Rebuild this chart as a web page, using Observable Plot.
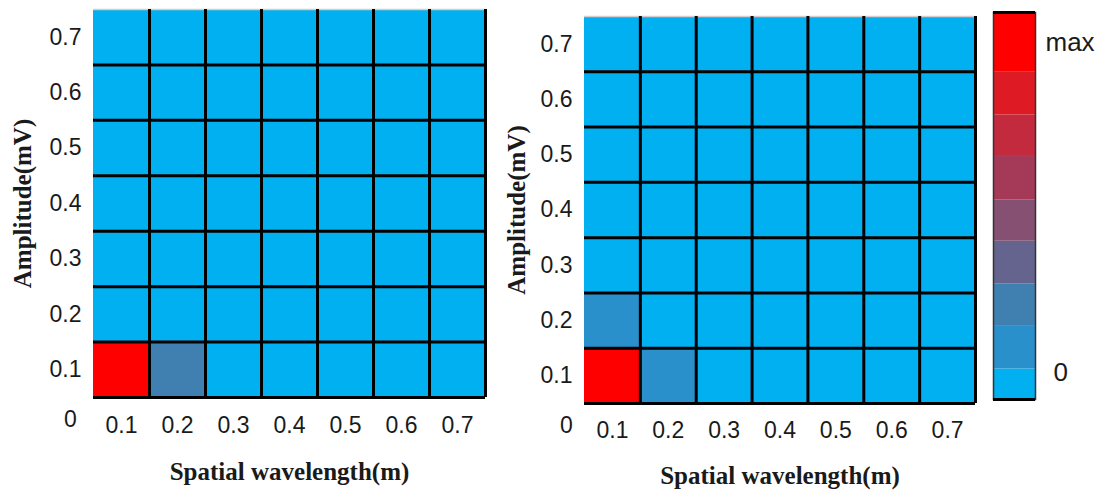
<!DOCTYPE html>
<html><head><meta charset="utf-8">
<script src="https://cdn.jsdelivr.net/npm/d3@7"></script>
<script src="https://cdn.jsdelivr.net/npm/@observablehq/plot@0.6"></script>
<style>
body{margin:0;background:#fff;}
#fig{position:relative;width:1115px;height:494px;overflow:hidden;background:#fff;}
#fig > div{position:absolute;top:0;}
#left{left:0;} #right{left:495px;} #bar{left:985px;}
</style></head><body>
<div id="fig"><div id="left"></div><div id="right"></div><div id="bar"></div></div>
<script>
// ---- data ----
const wavelengths = [0.1, 0.2, 0.3, 0.4, 0.5, 0.6, 0.7];   // x categories (m)
const amplitudes  = [0.1, 0.2, 0.3, 0.4, 0.5, 0.6, 0.7];   // y categories (mV)
// colour level per cell (0 = lowest, 8 = max); rows: amplitude 0.1 -> 0.7, columns: wavelength 0.1 -> 0.7
const leftLevels = [
  [8, 2, 0, 0, 0, 0, 0],
  [0, 0, 0, 0, 0, 0, 0],
  [0, 0, 0, 0, 0, 0, 0],
  [0, 0, 0, 0, 0, 0, 0],
  [0, 0, 0, 0, 0, 0, 0],
  [0, 0, 0, 0, 0, 0, 0],
  [0, 0, 0, 0, 0, 0, 0]
];
const rightLevels = [
  [8, 1, 0, 0, 0, 0, 0],
  [1, 0, 0, 0, 0, 0, 0],
  [0, 0, 0, 0, 0, 0, 0],
  [0, 0, 0, 0, 0, 0, 0],
  [0, 0, 0, 0, 0, 0, 0],
  [0, 0, 0, 0, 0, 0, 0],
  [0, 0, 0, 0, 0, 0, 0]
];
const levelColors = ["#00b0f0", "#2a90cc", "#4080b0", "#65648e", "#865072", "#a53a58", "#c42a3e", "#de1a24", "#ff0000"];
// colour-bar band boundaries, bottom -> top (fraction of bar height)
const legendStops = [0, 0.079, 0.191, 0.298, 0.409, 0.516, 0.628, 0.735, 0.847, 1];
const legendLabels = ["0", "max"];
const xTitle = "Spatial wavelength(m)";
const yTitle = "Amplitude(mV)";

// ---- drawing ----
const colorScale = {type: "ordinal", domain: levelColors.map((c, i) => i), range: levelColors};
const half = 0.05;
const tickFont = "'Liberation Sans', Arial, sans-serif";
const titleFont = "'Liberation Serif', 'Times New Roman', serif";
const fmt = d => String(+d.toFixed(1));

function heatmap(levels, o) {
  const cells = [];
  amplitudes.forEach((a, i) => wavelengths.forEach((w, j) => cells.push({w, a, level: levels[i][j]})));
  return Plot.plot({
    width: o.width, height: 494,
    marginLeft: o.ml, marginRight: o.mr, marginTop: o.mt, marginBottom: o.mb,
    x: {domain: [wavelengths[0] - half, wavelengths[6] + half], ticks: wavelengths, tickFormat: fmt, tickSize: 0, tickPadding: o.xpad, label: null},
    y: {domain: [amplitudes[0] - half, amplitudes[6] + half], ticks: amplitudes, tickFormat: fmt, tickSize: 0, tickPadding: 12, label: null},
    color: colorScale,
    style: {fontFamily: tickFont, fontSize: "23px", color: "#1a1a1a", background: "transparent"},
    marks: [
      Plot.rect(cells, {x1: d => d.w - half, x2: d => d.w + half, y1: d => d.a - half, y2: d => d.a + half, fill: "level"}),
      Plot.ruleY([amplitudes[6] + half], {stroke: "#d8cccc", strokeWidth: 1.5}),
      Plot.ruleX(wavelengths.map(w => w + half), {stroke: "black", strokeWidth: 3}),
      Plot.ruleY(amplitudes.map(a => a - half), {stroke: "black", strokeWidth: 3}),
      Plot.text(["0"], {frameAnchor: "bottom-left", textAnchor: "middle", lineAnchor: "middle", dx: o.zdx, dy: o.zdy, fontSize: 23, fontFamily: tickFont}),
      Plot.text([yTitle], {frameAnchor: "left", textAnchor: "middle", lineAnchor: "middle", rotate: -90, dx: o.ytdx, fontFamily: titleFont, fontWeight: "bold", fontSize: 25}),
      Plot.text([xTitle], {frameAnchor: "bottom", textAnchor: "middle", lineAnchor: "middle", dy: o.xtdy, fontFamily: titleFont, fontWeight: "bold", fontSize: 25})
    ]
  });
}

document.getElementById("left").append(heatmap(leftLevels, {
  width: 495, ml: 93, mr: 10, mt: 9, mb: 97, xpad: 19, zdx: -23, zdy: 22, ytdx: -71, xtdy: 74
}));
document.getElementById("right").append(heatmap(rightLevels, {
  width: 490, ml: 89, mr: 10, mt: 16, mb: 91, xpad: 18, zdx: -18, zdy: 22, ytdx: -68, xtdy: 72
}));

const bands = levelColors.map((c, i) => ({lo: legendStops[i], hi: legendStops[i + 1], level: i}));
document.getElementById("bar").append(Plot.plot({
  width: 130, height: 494,
  marginLeft: 8, marginRight: 80, marginTop: 12, marginBottom: 95,
  x: {domain: [0, 1], axis: null},
  y: {domain: [0, 1], axis: null},
  color: colorScale,
  style: {fontFamily: tickFont, background: "transparent", color: "#1a1a1a"},
  marks: [
    Plot.rect(bands, {x1: 0, x2: 1, y1: "lo", y2: "hi", fill: "level"}),
    Plot.frame({stroke: "#333", strokeWidth: 1.5}),
    Plot.ruleY([0, 1], {stroke: "black", strokeWidth: 3}),
    Plot.text([legendLabels[1]], {frameAnchor: "top-right", textAnchor: "start", lineAnchor: "middle", dx: 10, dy: 30, fontSize: 26}),
    Plot.text([legendLabels[0]], {frameAnchor: "bottom-right", textAnchor: "start", lineAnchor: "middle", dx: 18, dy: -27, fontSize: 26})
  ]
}));
</script>
</body></html>
